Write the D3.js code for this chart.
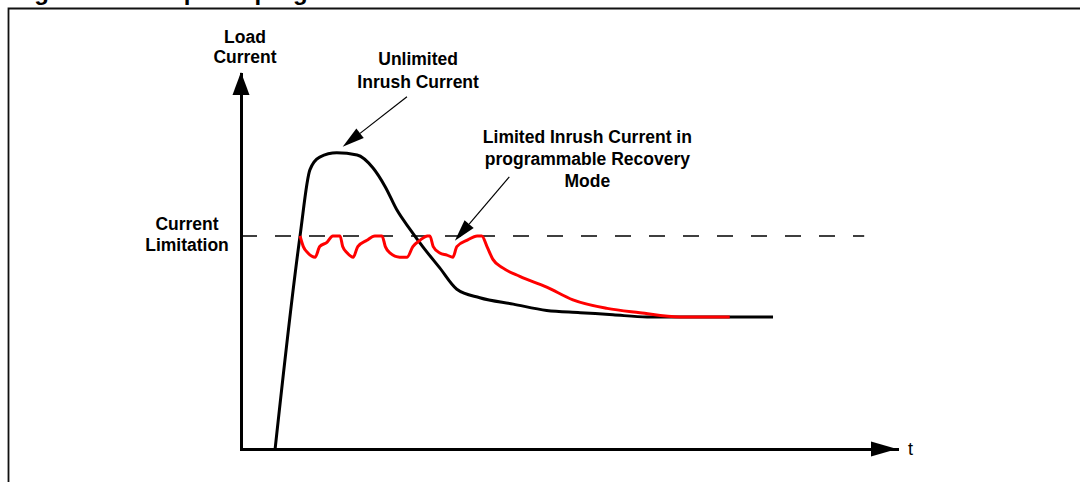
<!DOCTYPE html>
<html>
<head>
<meta charset="utf-8">
<script src="https://cdn.jsdelivr.net/npm/d3@7"></script>
<style>
  html, body { margin: 0; padding: 0; background: #fff; overflow: hidden; }
  svg { display: block; }
  text { font-family: "Liberation Sans", Arial, sans-serif; fill: #000; }
</style>
</head>
<body>
<div id="chart"></div>
<script>
// time axis (arbitrary units) and load current (1 = current limitation)
const unlimitedTime = [5.2, 9.0, 10.5, 12.0, 14.6, 17.7, 20.1, 22.0, 23.8, 25.8, 27.7, 30.3, 32.9, 36.4, 41.5, 46.6, 51.7, 56.7, 61.9, 72.0, 81.1];
const unlimitedCurrent = [0, 1.0, 1.31, 1.37, 1.39, 1.38, 1.32, 1.23, 1.12, 1.03, 0.95, 0.85, 0.75, 0.71, 0.68, 0.65, 0.64, 0.63, 0.62, 0.62, 0.62];

const limitedTime = [9.0, 9.5, 10.2, 11.3, 12.0, 13.1, 14.0, 15.1, 15.5, 16.2, 17.1, 17.8, 19.2, 20.4, 21.5, 22.0, 22.7, 24.2, 25.3, 26.2, 27.3, 28.4, 28.8, 29.3, 30.3, 31.4, 32.3, 32.9, 34.5, 36.0, 36.7, 37.5, 38.4, 39.9, 42.5, 46.6, 50.6, 55.8, 60.8, 66.9, 72.0, 74.5];
const limitedCurrent = [1.0, 0.95, 0.92, 0.90, 0.95, 0.97, 1.0, 1.0, 0.95, 0.92, 0.90, 0.95, 0.98, 1.0, 1.0, 0.95, 0.92, 0.90, 0.90, 0.95, 0.98, 1.0, 1.0, 0.95, 0.92, 0.91, 0.90, 0.95, 0.98, 1.0, 1.0, 0.95, 0.89, 0.85, 0.81, 0.76, 0.70, 0.66, 0.64, 0.62, 0.62, 0.62];

const currentLimit = 1.0;
const limitLineEnd = 95;

const yLabel = ['Load', 'Current'];
const xLabel = 't';
const limitLabel = ['Current', 'Limitation'];
const unlimitedLabel = ['Unlimited', 'Inrush Current'];
const limitedLabel = ['Limited Inrush Current in', 'programmable Recovery', 'Mode'];
const title = 'Figure 8. Example of programmable soft start with current limitation';

// annotation arrows: [tStart, iStart, tEnd, iEnd]
const unlimitedArrow = [25.3, 1.653, 15.5, 1.418];
const limitedArrow = [40.9, 1.277, 32.6, 0.977];

const width = 1080, height = 482;
const margin = { left: 241, top: 74, right: 183, bottom: 33 };

const svg = d3.select('#chart').append('svg')
  .attr('width', width)
  .attr('height', height);

const x = d3.scaleLinear()
  .domain([0, 100])
  .range([margin.left, width - margin.right]);

const y = d3.scaleLinear()
  .domain([0, 1.76])
  .range([height - margin.bottom, margin.top]);

// frame + title (cut by the top edge, as in the source page)
svg.append('text')
  .attr('x', 13)
  .attr('y', 0)
  .attr('font-size', 24)
  .attr('font-weight', 'bold')
  .text(title);

svg.append('path')
  .attr('d', `M8.5,${height + 2}V8.5H${width + 2}`)
  .attr('fill', 'none')
  .attr('stroke', '#111')
  .attr('stroke-width', 1.8);

// current limitation dashed line
svg.append('line')
  .attr('x1', x(0))
  .attr('x2', x(limitLineEnd))
  .attr('y1', y(currentLimit))
  .attr('y2', y(currentLimit))
  .attr('stroke', '#000')
  .attr('stroke-width', 1.5)
  .attr('stroke-dasharray', '16,18');

// axes (no ticks)
const xAxis = d3.axisBottom(x).tickValues([]).tickSizeOuter(0);
const yAxis = d3.axisLeft(y).tickValues([]).tickSizeOuter(0);

const gx = svg.append('g')
  .attr('transform', `translate(0,${y(0)})`)
  .call(xAxis);
const gy = svg.append('g')
  .attr('transform', `translate(${x(0)},0)`)
  .call(yAxis);

[gx, gy].forEach(g => g.select('.domain')
  .attr('stroke', '#000')
  .attr('stroke-width', 3)
  .attr('stroke-linecap', 'square'));

// arrow heads on axes
const x1 = x.range()[1], y0 = y(0);
svg.append('path')
  .attr('d', `M${x1 - 26},${y0 - 7.5}L${x1},${y0}L${x1 - 26},${y0 + 7.5}Z`)
  .attr('fill', '#000');
const yTop = y.range()[1] - 2, x0 = x(0);
svg.append('path')
  .attr('d', `M${x0 - 8.5},${yTop + 23}L${x0},${yTop}L${x0 + 8.5},${yTop + 23}Z`)
  .attr('fill', '#000');

// curves
const line = d3.line()
  .x(d => x(d[0]))
  .y(d => y(d[1]))
  .curve(d3.curveMonotoneX);

svg.append('path')
  .datum(d3.zip(unlimitedTime, unlimitedCurrent))
  .attr('d', line)
  .attr('fill', 'none')
  .attr('stroke', '#000')
  .attr('stroke-width', 3)
  .attr('stroke-linejoin', 'round');

svg.append('path')
  .datum(d3.zip(limitedTime, limitedCurrent))
  .attr('d', line)
  .attr('fill', 'none')
  .attr('stroke', '#ff0000')
  .attr('stroke-width', 3)
  .attr('stroke-linejoin', 'round');

// annotation arrows
function arrow(a) {
  const sx = x(a[0]), sy = y(a[1]), ex = x(a[2]), ey = y(a[3]);
  const ang = Math.atan2(ey - sy, ex - sx);
  const len = 22, hw = 6;
  const bx = ex - len * Math.cos(ang), by = ey - len * Math.sin(ang);
  svg.append('line')
    .attr('x1', sx).attr('y1', sy)
    .attr('x2', bx).attr('y2', by)
    .attr('stroke', '#000')
    .attr('stroke-width', 1.2);
  const px = -Math.sin(ang) * hw, py = Math.cos(ang) * hw;
  svg.append('path')
    .attr('d', `M${bx + px},${by + py}L${ex},${ey}L${bx - px},${by - py}Z`)
    .attr('fill', '#000');
}
arrow(unlimitedArrow);
arrow(limitedArrow);

// labels
function label(lines, cx, baseline, step) {
  svg.append('text')
    .attr('x', cx)
    .attr('y', baseline)
    .attr('text-anchor', 'middle')
    .attr('font-size', 17.5)
    .attr('font-weight', 'bold')
    .selectAll('tspan')
    .data(lines)
    .join('tspan')
    .attr('x', cx)
    .attr('dy', (d, i) => i === 0 ? 0 : step)
    .text(d => d);
}

label(yLabel, x(0) + 4, y.range()[1] - 31, 20);
label(limitLabel, x(0) - 54, y(currentLimit) - 6, 21);
label(unlimitedLabel, x(27.0), 65, 23);
label(limitedLabel, x(52.8), 143, 22);

svg.append('text')
  .attr('x', x1 + 11)
  .attr('y', y0 + 6)
  .attr('font-size', 18)
  .text(xLabel);
</script>
</body>
</html>
